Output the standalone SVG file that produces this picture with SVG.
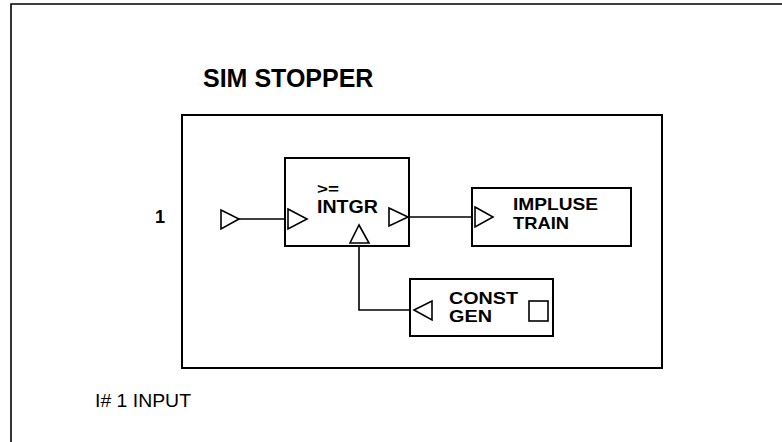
<svg xmlns="http://www.w3.org/2000/svg" width="782" height="442" viewBox="0 0 782 442">
<style>
.box{fill:none;stroke:#000;stroke-width:2}
.port{fill:#fff;stroke:#000;stroke-width:1.6;stroke-linejoin:miter}
.wire{fill:none;stroke:#000;stroke-width:1.6}
.lbl{font-family:"Liberation Sans",Arial,sans-serif;font-weight:bold;fill:#000}
.plain{font-family:"Liberation Sans",Arial,sans-serif;fill:#000}
</style>
<rect width="782" height="442" fill="#fff"/>
<g id="frame">
<path d="M11,442 V4 H782" fill="none" stroke="#000" stroke-width="1.6"/>
</g>
<text class="lbl" x="203" y="87" font-size="25">SIM STOPPER</text>
<text class="lbl" x="155" y="223" font-size="18">1</text>
<text class="plain" x="95" y="407" font-size="18" textLength="96" lengthAdjust="spacingAndGlyphs">I# 1 INPUT</text>
<g id="sim-stopper">
<rect class="box" x="182" y="115" width="480" height="253"/>
</g>
<g id="input-port">
<polygon class="port" points="221,210 239,219 221,229"/>
</g>
<g id="intgr">
<rect class="box" x="285" y="158" width="124" height="88"/>
<polygon class="port" points="288,209 307,219 288,229"/>
<polygon class="port" points="389,208 408,217 389,226"/>
<polygon class="port" points="359,225 369,243 350,243"/>
<text class="lbl" x="317" y="194" font-size="14" textLength="22" lengthAdjust="spacingAndGlyphs">&gt;=</text>
<text class="lbl" x="317" y="213" font-size="18" textLength="61" lengthAdjust="spacingAndGlyphs">INTGR</text>
</g>
<g id="impulse-train">
<rect class="box" x="472" y="188" width="159" height="58"/>
<polygon class="port" points="475,207 493,217 475,227"/>
<text class="lbl" x="513" y="210" font-size="17" textLength="85" lengthAdjust="spacingAndGlyphs">IMPLUSE</text>
<text class="lbl" x="513" y="229" font-size="17" textLength="56" lengthAdjust="spacingAndGlyphs">TRAIN</text>
</g>
<g id="const-gen">
<rect class="box" x="410" y="279" width="143" height="57"/>
<polygon class="port" points="414,310 432,301 432,320"/>
<rect x="529" y="301" width="19" height="20" fill="#fff" stroke="#000" stroke-width="1.6"/>
<text class="lbl" x="449" y="304" font-size="17" textLength="69" lengthAdjust="spacingAndGlyphs">CONST</text>
<text class="lbl" x="449" y="322" font-size="17" textLength="43" lengthAdjust="spacingAndGlyphs">GEN</text>
</g>
<g id="connectors">
<path class="wire" d="M239,219 H285"/>
<path class="wire" d="M408,217 H472"/>
<path class="wire" d="M359,246 V310 H410"/>
</g>
</svg>
